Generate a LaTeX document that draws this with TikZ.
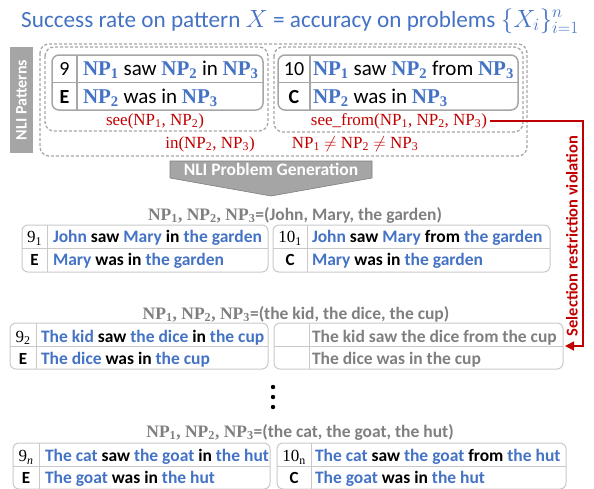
\documentclass[tikz,border=0pt]{standalone}
\usepackage{fontspec}
\setmainfont{Carlito}
\newfontfamily\npfont{Liberation Serif}
\usetikzlibrary{arrows.meta}
\definecolor{blueT}{HTML}{4472C4}
\definecolor{redT}{HTML}{C00000}
\definecolor{grayT}{HTML}{7F7F7F}
\definecolor{grayF}{HTML}{A5A5A5}
\definecolor{patline}{HTML}{A6A6A6}
\definecolor{tabline}{HTML}{C9C9C9}
\newcommand\npb[1]{{\npfont\bfseries\color{blueT}NP\textsubscript{#1}}}
\newcommand\npr[1]{NP\textsubscript{#1}}
\newcommand\bw[1]{{\color{blueT}#1}}
\newcommand\nlitab[7]{%
  \node[#2, minimum width={(#5-#3)*1pt}, minimum height={(#6-#4)*1pt}] (#1) at ({(#3+#5)/2},{(#4+#6)/2}) {};
  \draw[#2sep] (#1.west) -- (#1.east);
  \draw[#2sep] (#7,#4) -- (#7,#6);
}
\begin{document}
\begin{tikzpicture}[x=1pt,y=-1pt,
  every node/.style={inner sep=0pt, outer sep=0pt},
  pattab/.style={draw=patline, line width=1.5pt, rounded corners=7pt},
  pattabsep/.style={draw=patline, line width=1.5pt},
  probtab/.style={draw=tabline, line width=1pt, rounded corners=6pt},
  probtabsep/.style={draw=tabline, line width=1pt},
  dashbox/.style={draw=patline, line width=1.3pt, dash pattern=on 3pt off 2pt, rounded corners=9pt},
  pattxt/.style={anchor=base west, font=\fontsize{21}{23}\selectfont},
  patnum/.style={anchor=base, font=\fontsize{20}{22}\selectfont},
  redlab/.style={anchor=base, text=redT, font=\npfont\fontsize{17}{19}\selectfont},
  grylab/.style={anchor=base, text=grayT, font=\bfseries\fontsize{17.5}{19}\selectfont},
  probtxt/.style={anchor=base west, font=\bfseries\fontsize{17.5}{19}\selectfont},
  probnum/.style={anchor=base, font=\fontsize{17}{19}\selectfont},
  probE/.style={anchor=base, font=\bfseries\fontsize{17}{19}\selectfont},
  redline/.style={draw=redT, line width=1.5pt}
]
\useasboundingbox (0,0) rectangle (594,488);

% title
\node[anchor=base, text=blueT, font=\fontsize{23.2}{25}\selectfont] (title) at (300,27)
  {Success rate on pattern $X$ = accuracy on problems $\{X_i\}_{i=1}^{n}$};

% NLI patterns label
\node[fill=grayF, rotate=90, minimum width=106pt, minimum height=23pt, text=white,
      font=\bfseries\fontsize{16}{18}\selectfont] (patlab) at (21.5,100) {NLI Patterns};

% dashed groups
\draw[dashbox] (40,44) rectangle (527,156);
\draw[dashbox] (45,47) rectangle (268,131);
\draw[dashbox] (274,47) rectangle (523,132);

% pattern tables
\nlitab{patL}{pattab}{52}{55}{263}{110}{77}
\nlitab{patR}{pattab}{278}{55}{518}{110}{310}
\node[patnum] (pL1n) at (64.5,75) {9};
\node[patnum, font=\bfseries\fontsize{20}{22}\selectfont] (pL2n) at (64.5,103) {E};
\node[pattxt] (pL1) at (83,75) {\npb{1} saw \npb{2} in \npb{3}};
\node[pattxt] (pL2) at (83,103) {\npb{2} was in \npb{3}};
\node[patnum] (pR1n) at (294,75) {10};
\node[patnum, font=\bfseries\fontsize{20}{22}\selectfont] (pR2n) at (294,103) {C};
\node[pattxt] (pR1) at (313,75) {\npb{1} saw \npb{2} from \npb{3}};
\node[pattxt] (pR2) at (313,103) {\npb{2} was in \npb{3}};

% red constraints
\node[redlab] (seeL) at (155,125) {see(\npr{1}, \npr{2})};
\node[redlab] (inL) at (210,148) {in(\npr{2}, \npr{3})};
\node[redlab] (seefrom) at (399,125) {see\_from(\npr{1}, \npr{2}, \npr{3})};
\node[redlab] (neq) at (355,148) {\npr{1} $\neq$ \npr{2} $\neq$ \npr{3}};

% generation arrow
\filldraw[fill=grayF, draw=grayT, line width=0.6pt] (170,161) -- (372,161) -- (372,178) -- (271,196) -- (170,178) -- cycle;
\node[anchor=base, text=white, font=\bfseries\fontsize{17.5}{19}\selectfont] (gen) at (271,175.5) {NLI Problem Generation};

% group 1
\node[grylab] (lab1) at (295,220) {{\npfont\npr{1}, \npr{2}, \npr{3}}=(John, Mary, the garden)};
\nlitab{jL}{probtab}{22}{225}{268}{272}{47}
\nlitab{jR}{probtab}{273}{225}{550}{272}{307}
\node[probnum] (jL1n) at (34.5,242.5) {{\npfont 9\textsubscript{1}}};
\node[probE] (jL2n) at (34.5,265) {E};
\node[probtxt] (jL1) at (53,242.5) {\bw{John} saw \bw{Mary} in \bw{the garden}};
\node[probtxt] (jL2) at (53,265) {\bw{Mary} was in \bw{the garden}};
\node[probnum] (jR1n) at (290,242.5) {{\npfont 10\textsubscript{1}}};
\node[probE] (jR2n) at (290,265) {C};
\node[probtxt] (jR1) at (312,242.5) {\bw{John} saw \bw{Mary} from \bw{the garden}};
\node[probtxt] (jR2) at (312,265) {\bw{Mary} was in \bw{the garden}};

% group 2
\node[grylab] (lab2) at (296,319) {{\npfont\npr{1}, \npr{2}, \npr{3}}=(the kid, the dice, the cup)};
\nlitab{kL}{probtab}{10}{323}{268}{369}{36}
\nlitab{kR}{probtab}{274}{323}{563}{369}{309}
\node[probnum] (kL1n) at (23,342) {{\npfont 9\textsubscript{2}}};
\node[probE] (kL2n) at (23,364) {E};
\node[probtxt] (kL1) at (41,342) {\bw{The kid} saw \bw{the dice} in \bw{the cup}};
\node[probtxt] (kL2) at (41,364) {\bw{The dice} was in \bw{the cup}};
\node[probtxt, text=grayT] (kR1) at (312,342) {The kid saw the dice from the cup};
\node[probtxt, text=grayT] (kR2) at (312,364) {The dice was in the cup};

% dots
\fill (273,387) circle (2.2pt) (273,397) circle (2.2pt) (273,407) circle (2.2pt);

% group 3
\node[grylab] (lab3) at (300,437) {{\npfont\npr{1}, \npr{2}, \npr{3}}=(the cat, the goat, the hut)};
\nlitab{cL}{probtab}{13}{443}{270}{489}{39}
\nlitab{cR}{probtab}{277}{443}{566}{489}{311}
\node[probnum] (cL1n) at (26,461.5) {{\npfont 9\textsubscript{\itshape n}}};
\node[probE] (cL2n) at (26,483) {E};
\node[probtxt] (cL1) at (45,461.5) {\bw{The cat} saw \bw{the goat} in \bw{the hut}};
\node[probtxt] (cL2) at (45,483) {\bw{The goat} was in \bw{the hut}};
\node[probnum] (cR1n) at (294,461.5) {{\npfont 10\textsubscript{n}}};
\node[probE] (cR2n) at (294,483) {C};
\node[probtxt] (cR1) at (315,461.5) {\bw{The cat} saw \bw{the goat} from \bw{the hut}};
\node[probtxt] (cR2) at (315,483) {\bw{The goat} was in \bw{the hut}};

% selection restriction violation
\coordinate (vx) at (583,0);
\draw[redline, -{Triangle[length=9pt, width=9pt]}, shorten <=3pt, shorten >=2pt]
  (seefrom.east) -- (seefrom.east -| vx) -- (kR.east -| vx) -- (kR.east);
\node[rotate=90, text=redT, font=\bfseries\fontsize{16.5}{18}\selectfont] (srv) at (572,236) {Selection restriction violation};
\end{tikzpicture}
\end{document}
